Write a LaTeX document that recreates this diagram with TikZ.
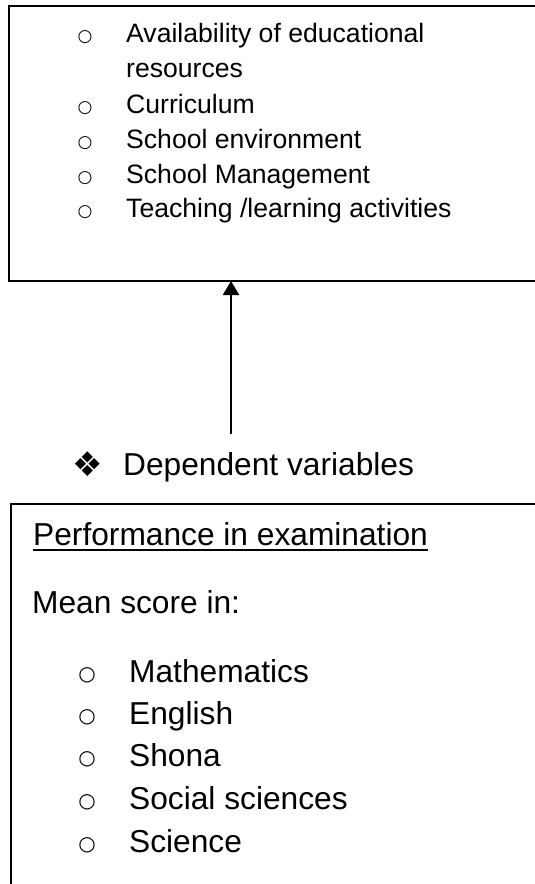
\documentclass[tikz,border=0pt]{standalone}
\usepackage{fontspec}
\setmainfont{Liberation Sans}
\newfontfamily\symfont{DejaVu Sans}
\usetikzlibrary{arrows.meta}
\begin{document}
\begin{tikzpicture}[x=1pt,y=-1pt,
  frame/.style={draw, line width=1.6pt, anchor=north west, inner sep=0pt, outer sep=0pt},
  smalltext/.style={anchor=base west, inner sep=0pt, font=\fontsize{26.6}{32}\selectfont},
  smallbul/.style={anchor=center, inner sep=0pt, font=\symfont\fontsize{17}{20}\selectfont},
  bigtext/.style={anchor=base west, inner sep=0pt, font=\fontsize{31.7}{38}\selectfont},
  bigbul/.style={anchor=center, inner sep=0pt, font=\symfont\fontsize{20}{24}\selectfont},
  diabul/.style={anchor=base, inner sep=0pt, font=\symfont\fontsize{34}{40}\selectfont},
  conn/.style={line width=2.2pt, -{Triangle[width=16pt,length=14pt]}}
]
\clip (0,0) rectangle (535,884);
% top box
\node[frame, minimum width=560pt, minimum height=275pt] (topbox) at (9,6) {};
\node[smallbul] (tb1) at (85,36.7) {○};
\node[smalltext] (tt1) at (126,42) {Availability of educational};
\node[smalltext] (tt1b) at (126,77) {resources};
\node[smallbul] (tb2) at (85,107.7) {○};
\node[smalltext] (tt2) at (126,113) {Curriculum};
\node[smallbul] (tb3) at (85,142.7) {○};
\node[smalltext] (tt3) at (126,148) {School environment};
\node[smallbul] (tb4) at (85,177.7) {○};
\node[smalltext] (tt4) at (126,183) {School Management};
\node[smallbul] (tb5) at (85,211.7) {○};
\node[smalltext] (tt5) at (126,217) {Teaching /learning activities};
% arrow
\coordinate (astart) at (231,434);
\draw[conn] (astart) -- (astart |- topbox.south);
% dependent variables
\node[diabul] (dvb) at (88,476) {❖};
\node[bigtext] (dv) at (123,475) {Dependent variables};
% bottom box
\node[frame, minimum width=560pt, minimum height=420pt] (botbox) at (11,504) {};
\node[bigtext] (perf) at (33,545) {Performance in examination};
\draw[line width=2pt] ([yshift=-4.5pt]perf.base west) -- ([yshift=-4.5pt]perf.base east);
\node[bigtext] (mean) at (32,613) {Mean score in:};
\foreach \t/\y [count=\i] in {Mathematics/682, English/724, Shona/766, Social sciences/809, Science/852} {
  \node[bigbul] (bb\i) at (87,\y-6.3) {○};
  \node[bigtext] (bt\i) at (129,\y) {\t};
}
\end{tikzpicture}
\end{document}
